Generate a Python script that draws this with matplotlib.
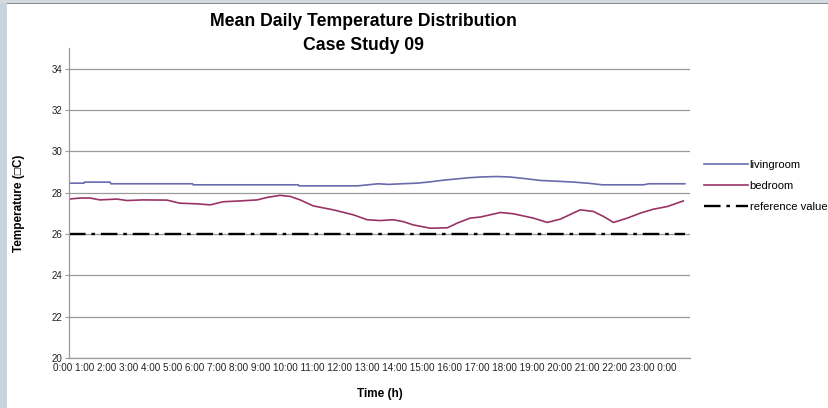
import matplotlib
matplotlib.use("Agg")
import matplotlib.pyplot as plt
from matplotlib.patches import Rectangle

# hourly readings (h) for each room
living_hours = [0.0, 0.58, 0.6, 1.6, 1.62, 4.8, 4.82, 8.9, 8.92, 11.2, 11.6, 12.0, 12.4,
                12.9, 13.5, 14.0, 14.5, 15.0, 15.5, 16.0, 16.6, 17.1, 17.7, 18.3, 19.0,
                19.6, 20.2, 20.7, 22.3, 22.5, 23.9]
living_temp = [28.46, 28.46, 28.51, 28.51, 28.43, 28.43, 28.38, 28.38, 28.33, 28.33, 28.38,
               28.43, 28.40, 28.43, 28.46, 28.52, 28.60, 28.66, 28.72, 28.76, 28.78, 28.76,
               28.68, 28.59, 28.55, 28.51, 28.45, 28.38, 28.38, 28.43, 28.43]

bed_hours = [0.0, 0.43, 0.82, 1.2, 1.86, 2.25, 2.87, 3.8, 4.3, 4.97, 5.48, 5.98, 6.64,
             7.3, 7.69, 8.19, 8.58, 8.97, 9.48, 10.25, 11.03, 11.57, 12.08, 12.58, 12.97,
             13.36, 14.02, 14.68, 15.07, 15.57, 15.96, 16.74, 17.24, 18.02, 18.56, 19.07,
             19.84, 20.35, 20.74, 21.13, 21.67, 22.17, 22.68, 23.22, 23.84]
bed_temp = [27.69, 27.74, 27.74, 27.65, 27.69, 27.62, 27.65, 27.64, 27.49, 27.46, 27.41,
            27.56, 27.60, 27.65, 27.77, 27.87, 27.82, 27.65, 27.36, 27.17, 26.93, 26.69,
            26.65, 26.69, 26.60, 26.44, 26.28, 26.30, 26.53, 26.77, 26.82, 27.04, 26.98,
            26.77, 26.56, 26.72, 27.17, 27.09, 26.85, 26.56, 26.77, 27.01, 27.20, 27.33,
            27.60]

ref_hours = [0.0, 23.9]
ref_temp = [26.0, 26.0]

time_labels = [f"{h}:00" for h in range(24)] + ["0:00"]
y_ticks = [20, 22, 24, 26, 28, 30, 32, 34]

plt.rcParams["font.family"] = ["Liberation Sans", "DejaVu Sans"]

fig = plt.figure(figsize=(8.29, 4.08), dpi=100)
fig.patch.set_facecolor("white")

# window frame around the chart
fig.patches.append(Rectangle((0, 0), 7 / 829, 1, transform=fig.transFigure,
                             facecolor="#c8d3db", edgecolor="none"))
fig.patches.append(Rectangle((0, 1 - 3 / 408), 1, 3 / 408, transform=fig.transFigure,
                             facecolor="#d3dbe2", edgecolor="none"))
fig.patches.append(Rectangle((7 / 829, 1 - 4 / 408), 1, 1 / 408, transform=fig.transFigure,
                             facecolor="#8a8a8a", edgecolor="none"))

ax = fig.add_axes([69 / 829, 50 / 408, 621 / 829, 310 / 408])

ax.plot(living_hours, living_temp, color="#6a6aae", lw=1.2, label="livingroom")
ax.plot(bed_hours, bed_temp, color="#993366", lw=1.2, label="bedroom")
ax.plot(ref_hours, ref_temp, color="black", lw=1.7, dashes=[7, 2.5, 1.5, 2.5],
        label="reference value")

ax.set_xlim(0, 24.1)
ax.set_ylim(20, 35)
ax.set_yticks(y_ticks)
ax.set_yticklabels([str(v) for v in y_ticks], fontsize=7, color="#222222")
ax.yaxis.grid(True, color="#9a9a9a", lw=0.9)
ax.set_axisbelow(True)
ax.tick_params(axis="y", length=3, color="#9a9a9a", pad=2)
ax.set_xticks([])

for side in ["top", "right"]:
    ax.spines[side].set_visible(False)
for side in ["left", "bottom"]:
    ax.spines[side].set_color("#9a9a9a")
    ax.spines[side].set_linewidth(0.9)

# time labels run together under the axis
fig.text(53 / 829, 1 - 368 / 408, " ".join(time_labels), fontsize=7.15,
         ha="left", va="center", color="#222222")

fig.text(363 / 829, 1 - 21 / 408, "Mean Daily Temperature Distribution",
         fontsize=12.7, fontweight="bold", ha="center", va="center")
fig.text(363 / 829, 1 - 45 / 408, "Case Study 09",
         fontsize=12.7, fontweight="bold", ha="center", va="center")

fig.text(19 / 829, 1 - 203 / 408, "Temperature (\u25a1C)", fontsize=8.5,
         fontweight="bold", rotation=90, ha="center", va="center")
fig.text(380 / 829, 1 - 394 / 408, "Time (h)", fontsize=8.5,
         fontweight="bold", ha="center", va="center")

fig.legend(loc="center left", bbox_to_anchor=(704 / 829, 1 - 186 / 408),
           frameon=False, fontsize=8.1, handlelength=3.9, handletextpad=0.15,
           labelspacing=1.0, borderpad=0, borderaxespad=0)

fig.savefig("out.png", dpi=100)
